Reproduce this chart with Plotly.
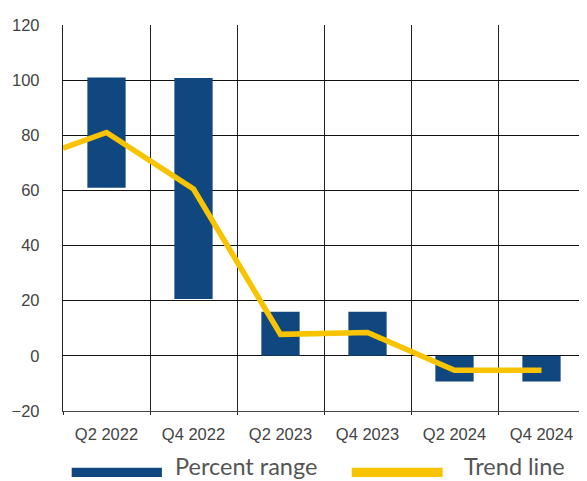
import plotly.graph_objects as go

categories = ["Q2 2022", "Q4 2022", "Q2 2023", "Q4 2023", "Q2 2024", "Q4 2024"]
range_low = [61, 20.6, 0, 0, -9.3, -9.3]
range_high = [101, 100.8, 16, 16, 0, 0]
trend_start = 75.3          # trend value at the left edge of the chart
trend_values = [81, 60.5, 7.8, 8.5, -5.2, -5.2]
y_ticks = [-20, 0, 20, 40, 60, 80, 100, 120]

NAVY = "#10477f"
GOLD = "#f8c300"

pos = list(range(len(categories)))
fig = go.Figure()
fig.add_trace(go.Bar(
    x=pos, y=[h - l for h, l in zip(range_high, range_low)], base=range_low,
    width=0.44, marker=dict(color=NAVY, line=dict(width=0)),
    name="Percent range", showlegend=False, hoverinfo="skip"))
fig.add_trace(go.Scatter(
    x=[-0.5] + pos, y=[trend_start] + trend_values, mode="lines",
    line=dict(color=GOLD, width=5.5), name="Trend line", showlegend=False,
    cliponaxis=True))

PW, PH = 522.5, 385.7   # plot area size in px
fig.update_layout(
    width=579, height=473,   # page body adds an 8px offset
    margin=dict(l=55, r=1.5, t=17, b=70.3, autoexpand=False),
    paper_bgcolor="white", plot_bgcolor="white",
    showlegend=False,
    xaxis=dict(
        range=[-0.5, 5.5], tickmode="array", tickvals=pos, ticktext=categories,
        showgrid=False, zeroline=False, ticks="", ticklabelstandoff=8,
        automargin=False,
        tickfont=dict(family="Liberation Sans", size=16.5, color="#444"),
        showline=True, linecolor="#444", linewidth=1.3,
        minor=dict(tickmode="linear", tick0=0.5, dtick=1, showgrid=True,
                   gridcolor="#222", gridwidth=1.3, ticks="outside",
                   ticklen=3, tickcolor="#222", tickwidth=1.3)),
    yaxis=dict(
        range=[-20, 120], tickmode="array", tickvals=y_ticks,
        showgrid=True, gridcolor="#111", gridwidth=1.3, zeroline=False,
        ticks="", ticklabelstandoff=19, automargin=False,
        tickfont=dict(family="Liberation Sans", size=16.5, color="#444"),
        showline=True, linecolor="#222", linewidth=1.3),
    yaxis2=dict(
        overlaying="y", side="right", range=[-20, 120], showgrid=False,
        zeroline=False, showticklabels=False, ticks="", automargin=False,
        showline=True, linecolor="#111", linewidth=1.3),
)

# custom legend with wide swatches (plot-relative paper coordinates)
def px_x(x):
    return (x - 63) / PW

def px_y(y):
    return (410.7 - y) / PH

fig.add_shape(type="rect", xref="paper", yref="paper",
              x0=px_x(71.7), x1=px_x(162), y0=px_y(476.7), y1=px_y(467.3),
              fillcolor=NAVY, line=dict(width=0))
fig.add_annotation(text="Percent range", xref="paper", yref="paper",
                   x=px_x(173.5), y=px_y(466), xanchor="left", yanchor="middle",
                   showarrow=False,
                   font=dict(family="Lato", size=23.5, color="#555"))
fig.add_shape(type="rect", xref="paper", yref="paper",
              x0=px_x(352), x1=px_x(443), y0=px_y(476.7), y1=px_y(467.3),
              fillcolor=GOLD, line=dict(width=0))
fig.add_annotation(text="Trend line", xref="paper", yref="paper",
                   x=px_x(462), y=px_y(466), xanchor="left", yanchor="middle",
                   showarrow=False,
                   font=dict(family="Lato", size=23.5, color="#555"))

fig.write_html("out.html")
